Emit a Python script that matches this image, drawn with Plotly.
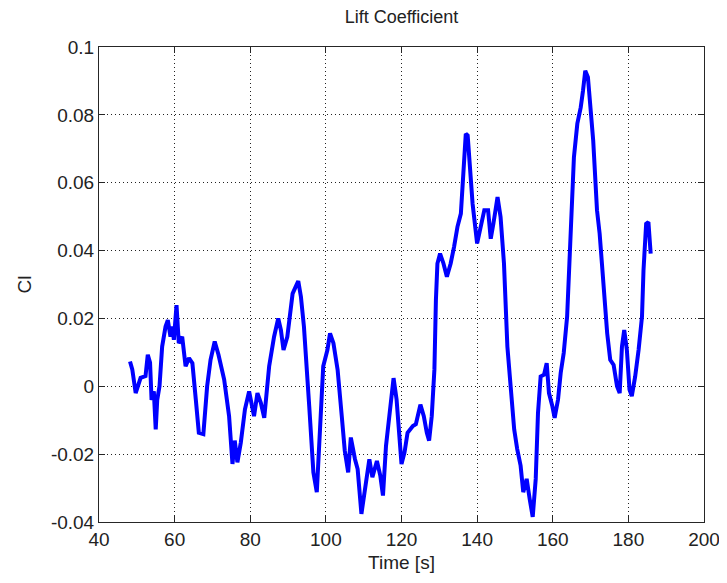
import plotly.graph_objects as go

time_s = [48.2, 48.8, 49.7, 50.6, 51.0, 52.3, 52.9, 53.5, 53.9, 54.5, 55.0, 55.4, 56.0, 56.7, 57.6, 58.2, 58.9, 59.4, 59.8, 60.5,
          61.1, 62.0, 62.9, 63.8, 64.7, 65.6, 66.4, 67.6, 68.6, 69.5, 70.6, 71.6, 73.1, 74.4, 75.3, 75.9, 76.6, 77.5, 78.6, 79.7,
          81.0, 81.9, 82.8, 83.7, 85.0, 86.3, 87.4, 88.1, 88.8, 89.8, 91.2, 92.0, 92.7, 93.4, 94.2, 95.6, 96.7, 97.6, 98.5, 99.3,
          100.4, 101.1, 102.0, 103.1, 104.2, 105.0, 105.9, 106.6, 107.7, 108.4, 109.4, 110.3, 111.5, 112.3, 113.5, 114.4, 115.1,
          115.9, 116.9, 117.9, 118.7, 120.0, 120.8, 121.6, 123.0, 123.8, 125.0, 125.9, 126.7, 127.3, 128.0, 128.7, 129.1, 129.5,
          130.2, 131.1, 132.0, 133.0, 133.9, 134.8, 135.7, 136.4, 137.0, 137.5, 138.1, 138.8, 140.0, 141.0, 141.9, 142.9, 143.6,
          144.3, 145.4, 146.2, 147.1, 148.0, 148.9, 149.8, 150.6, 151.5, 152.2, 153.1, 153.9, 154.7, 155.5, 156.1, 156.8, 157.7,
          158.4, 159.0, 159.9, 160.5, 161.4, 162.1, 162.9, 163.8, 164.4, 164.9, 165.6, 166.5, 167.4, 168.0, 168.6, 169.3, 169.8,
          170.7, 171.7, 172.4, 173.0, 173.5, 174.4, 175.2, 176.1, 177.0, 177.7, 178.3, 178.9, 179.6, 180.3, 180.9, 181.8, 182.7,
          183.6, 184.0, 184.7, 185.3, 185.9]
cl = [0.0073, 0.005, -0.002, 0.001, 0.0025, 0.003, 0.0093, 0.007, -0.004, -0.0015, -0.0127, -0.004, 0.0, 0.0117, 0.0176, 0.0195,
      0.0146, 0.0176, 0.0137, 0.0239, 0.0127, 0.0146, 0.0059, 0.0083, 0.0068, -0.0039, -0.0137, -0.0141, 0.0, 0.0078, 0.0132,
      0.0093, 0.002, -0.0088, -0.0229, -0.016, -0.0224, -0.0166, -0.0068, -0.0015, -0.0088, -0.002, -0.0049, -0.0093, 0.0059,
      0.0146, 0.02, 0.0166, 0.0107, 0.0146, 0.0273, 0.0293, 0.031, 0.0264, 0.0176, -0.0059, -0.0254, -0.0312, -0.0137, 0.0059,
      0.0107, 0.0156, 0.0127, 0.0049, -0.0088, -0.019, -0.0254, -0.0151, -0.0215, -0.0244, -0.0376, -0.0303, -0.0215, -0.0268,
      -0.022, -0.0264, -0.0322, -0.0176, -0.0078, 0.0024, -0.0039, -0.0229, -0.0195, -0.0137, -0.0117, -0.0112, -0.0054,
      -0.0088, -0.0137, -0.016, -0.0088, 0.0049, 0.0254, 0.0362, 0.0391, 0.0362, 0.0323, 0.0362, 0.0411, 0.047, 0.0509, 0.0636,
      0.0744, 0.0739, 0.0636, 0.0538, 0.0421, 0.0479, 0.0519, 0.0519, 0.0435, 0.0479, 0.0558, 0.0499, 0.0362, 0.0117, -0.002,
      -0.0127, -0.0185, -0.0234, -0.0312, -0.0273, -0.0332, -0.0385, -0.0273, -0.0078, 0.0029, 0.0034, 0.0068, -0.002, -0.0059,
      -0.0093, -0.0039, 0.0039, 0.0098, 0.0205, 0.0362, 0.0528, 0.0675, 0.0774, 0.0822, 0.0871, 0.093, 0.0911, 0.0852, 0.0724,
      0.0519, 0.045, 0.0362, 0.0273, 0.0156, 0.0078, 0.0063, 0.0, -0.002, 0.0117, 0.0166, 0.0107, -0.001, -0.0029, 0.0029,
      0.0107, 0.0205, 0.0342, 0.0479, 0.0484, 0.0391]

x_ticks = [40, 60, 80, 100, 120, 140, 160, 180, 200]
y_ticks = [-0.04, -0.02, 0, 0.02, 0.04, 0.06, 0.08, 0.1]
y_tick_text = ["-0.04", "-0.02", "0", "0.02", "0.04", "0.06", "0.08", "0.1"]

FONT = "Liberation Sans, Arial"

fig = go.Figure()
fig.add_trace(go.Scatter(x=time_s, y=cl, mode="lines",
                         line=dict(color="#0000FF", width=4), showlegend=False))

axis_common = dict(showline=True, linecolor="#262626", linewidth=1, mirror="ticks",
                   ticks="inside", ticklen=6, tickcolor="#262626",
                   showgrid=True, gridcolor="#222222", griddash="1px,3px", gridwidth=1,
                   zeroline=False, tickfont=dict(family=FONT, size=19, color="#222"))

fig.update_xaxes(range=[40, 200], tickvals=x_ticks,
                 title=dict(text="Time [s]", font=dict(family=FONT, size=19, color="#222"), standoff=6),
                 **axis_common)
fig.update_yaxes(range=[-0.04, 0.1], tickvals=y_ticks, ticktext=y_tick_text,
                 title=dict(text="Cl", font=dict(family=FONT, size=19, color="#222"), standoff=14),
                 **axis_common)

fig.update_layout(
    width=727, height=583,
    margin=dict(l=91, r=31, t=39, b=69),
    paper_bgcolor="white", plot_bgcolor="white",
    title=dict(text="Lift Coefficient", x=(91 + 696) / 2 / 727, xanchor="center", y=1 - 9 / 583, yanchor="middle",
               font=dict(family=FONT, size=18, color="#222")),
)

fig.write_html("out.html")
